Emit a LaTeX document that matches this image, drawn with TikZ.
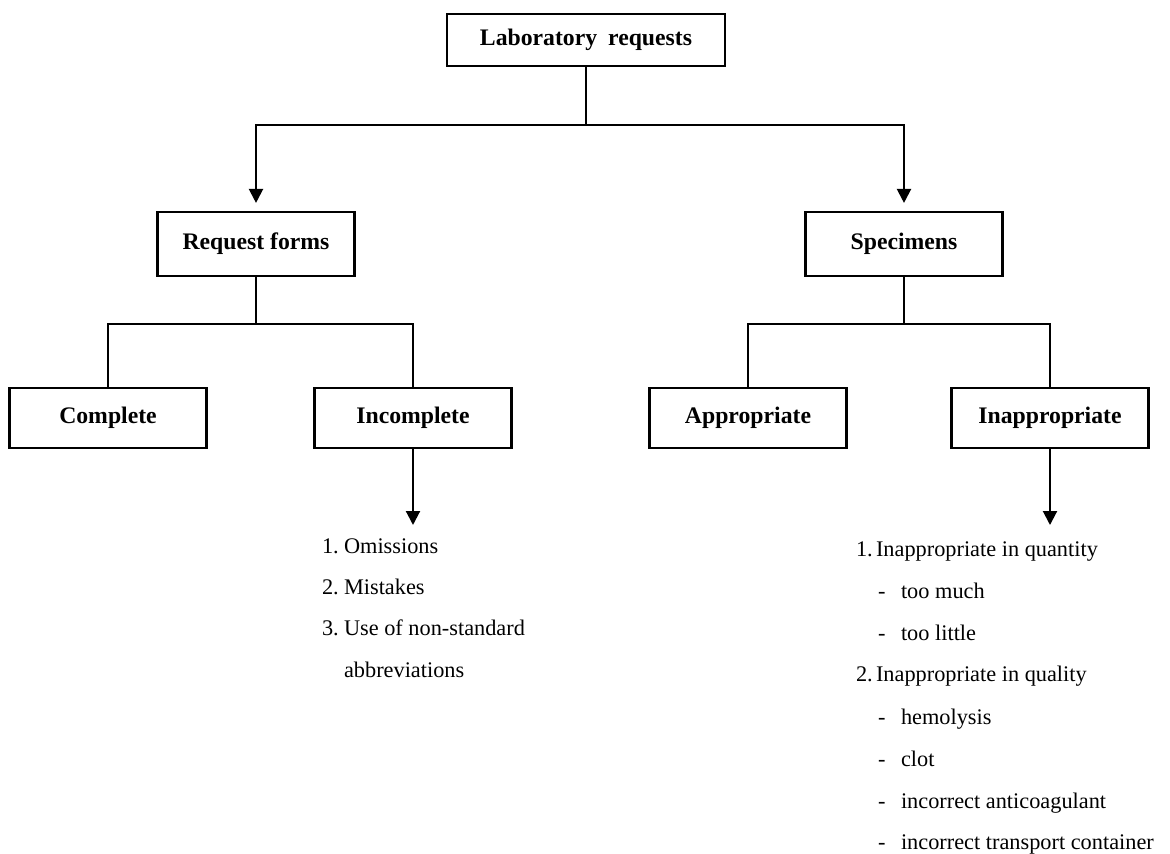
\documentclass[tikz,border=0pt]{standalone}
\usepackage{fontspec}
\setmainfont{Liberation Serif}
\usetikzlibrary{arrows.meta}

\begin{document}
\begin{tikzpicture}[x=0.02cm, y=-0.02cm,
					line width=1.2pt,
					box/.style={draw, rectangle, inner sep=0pt,
						minimum width=3.94cm, minimum height=1.2cm,
						font=\fontsize{13.5}{16}\selectfont\bfseries},
					flow/.style={-{Triangle[width=0.28cm,length=0.28cm]}},
					item/.style={anchor=base west, inner sep=0pt,
						font=\fontsize{12.7}{15}\selectfont}]

  \useasboundingbox (0,0) rectangle (1170,854);

  % boxes
  \node[box, minimum width=5.56cm, minimum height=1.04cm] (lab) at (586,40) {Laboratory\hspace{0.1cm} requests};
  \node[box, minimum height=1.28cm] (req) at (256,244) {Request forms};
  \node[box, minimum height=1.28cm] (spec) at (904,244) {Specimens};
  \node[box] (comp) at (108,418) {Complete};
  \node[box] (inc) at (413,418) {Incomplete};
  \node[box] (appr) at (748,418) {Appropriate};
  \node[box] (inapp) at (1050,418) {Inappropriate};

  % junctions
  \coordinate (j1) at (586,125);
  \coordinate (j2) at (256,324);
  \coordinate (j3) at (904,324);
  \coordinate (incend) at (413,525);
  \coordinate (inappend) at (1050,525);

  \draw (lab.south) -- (j1);
  \draw[flow, shorten >=0.16cm] (j1) -| (req.north);
  \draw[flow, shorten >=0.16cm] (j1) -| (spec.north);

  \draw (req.south) -- (j2);
  \draw (j2) -| (comp.north);
  \draw (j2) -| (inc.north);

  \draw (spec.south) -- (j3);
  \draw (j3) -| (appr.north);
  \draw (j3) -| (inapp.north);

  \draw[flow] (inc.south) -- (incend);
  \draw[flow] (inapp.south) -- (inappend);

  % request form errors
  \node[item] (om) at (321,554) {\makebox[0.44cm][l]{1.}Omissions};
  \node[item] (mis) at (321,595) {\makebox[0.44cm][l]{2.}Mistakes};
  \node[item] (use) at (321,636) {\makebox[0.44cm][l]{3.}Use of non-standard};
  \node[item] (abb) at (343,677) {abbreviations};

  % specimen errors
  \node[item] (qty) at (855,557) {\makebox[0.4cm][l]{1.}Inappropriate in quantity};
  \node[item] (much) at (877,599) {\makebox[0.46cm][l]{-}too much};
  \node[item] (little) at (877,641) {\makebox[0.46cm][l]{-}too little};
  \node[item] (qual) at (855,682) {\makebox[0.4cm][l]{2.}Inappropriate in quality};
  \node[item] (hemo) at (877,724) {\makebox[0.46cm][l]{-}hemolysis};
  \node[item] (clot) at (877,766) {\makebox[0.46cm][l]{-}clot};
  \node[item] (antic) at (877,808) {\makebox[0.46cm][l]{-}incorrect anticoagulant};
  \node[item] (cont) at (877,849) {\makebox[0.46cm][l]{-}incorrect transport container};
\end{tikzpicture}
\end{document}
